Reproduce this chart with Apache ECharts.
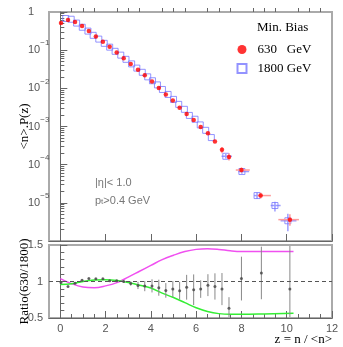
<!DOCTYPE html>
<html><head><meta charset="utf-8">
<script src="https://cdn.jsdelivr.net/npm/echarts@6/dist/echarts.min.js"></script>
<style>html,body{margin:0;padding:0;background:#fff}#c{width:343px;height:347px}</style>
</head><body><div id="c"></div>
<script>
// ---- data ----
const z630 = [0.03,0.34,0.65,0.96,1.26,1.57,1.88,2.18,2.49,2.80,3.11,3.43,3.73,4.05,4.35,4.66,4.97,5.27,5.58,5.89,6.20,6.52,6.83,7.14,7.45,8.00,8.85,10.14];
const p630 = [0.513,0.617,0.550,0.427,0.316,0.229,0.166,0.123,0.0871,0.0617,0.0437,0.0309,0.0219,0.0151,0.0102,0.00692,0.00479,0.00309,0.00214,0.00148,0.000977,0.000661,0.000407,0.000245,0.000158,7.24e-5,1.55e-5,3.63e-6];
const z1800 = [0.24,0.48,0.72,0.97,1.22,1.45,1.70,1.94,2.18,2.42,2.67,2.90,3.15,3.38,3.62,3.86,4.07,4.29,4.51,4.76,5.00,5.23,5.48,5.70,5.95,6.18,6.42,6.67,7.31,8.02,8.69,9.48,10.05];
const p1800 = [0.676,0.646,0.513,0.398,0.316,0.245,0.195,0.151,0.120,0.0933,0.0741,0.0575,0.0437,0.0339,0.0263,0.0200,0.0158,0.0123,0.00933,0.00692,0.00513,0.00380,0.00282,0.00195,0.00155,0.00110,0.000794,0.000513,0.000166,6.61e-5,1.55e-5,8.51e-6,3.39e-6];
// error bars: [z, value, zLow, zHigh, valueLow, valueHigh]
const err630 = [
  [7.14, 2.45e-4, 7.14, 7.14, 2.0e-4, 2.9e-4],
  [7.45, 1.58e-4, 7.45, 7.45, 1.29e-4, 2.0e-4],
  [8.00, 7.24e-5, 7.75, 8.37, 6.2e-5, 8.4e-5],
  [8.85, 1.55e-5, 8.71, 9.30, 1.3e-5, 1.85e-5],
  [10.14, 3.63e-6, 9.63, 10.54, 2.5e-6, 5.0e-6]
];
const err1800 = [
  [7.31, 1.66e-4, 7.12, 7.58, 1.45e-4, 1.9e-4],
  [8.02, 6.61e-5, 7.86, 8.34, 5.8e-5, 7.5e-5],
  [8.69, 1.55e-5, 8.56, 8.88, 1.26e-5, 1.86e-5],
  [9.48, 8.51e-6, 9.29, 9.73, 5.9e-6, 1.07e-5],
  [10.05, 3.39e-6, 9.73, 10.43, 1.8e-6, 5.2e-6]
];
const ratioZ = [0.03,0.34,0.65,0.96,1.26,1.57,1.88,2.18,2.49,2.80,3.11,3.43,3.73,4.05,4.35,4.66,4.97,5.27,5.58,5.89,6.20,6.52,6.83,7.14,7.45,8.00,8.88,10.14];
const ratioVal = [0.987,0.93,0.977,1.018,1.04,1.036,1.036,1.009,1.009,1.0,0.973,0.946,0.937,0.94,0.915,0.878,0.896,0.874,0.921,0.887,0.896,0.95,0.932,0.896,0.635,1.04,1.117,0.896];
const ratioErr = [0.01,0.01,0.01,0.01,0.01,0.01,0.01,0.01,0.012,0.015,0.03,0.05,0.07,0.09,0.11,0.1,0.11,0.12,0.17,0.21,0.12,0.15,0.18,0.22,0.15,0.30,0.36,0.6];
const curveZ = [0,0.5,1.0,1.5,2.0,2.5,3.0,3.5,4.0,4.5,5.0,5.5,6.0,6.5,7.0,7.5,8.0,9.0,10.3];
const magentaRatio = [1.04,0.97,0.925,0.915,0.94,0.985,1.06,1.14,1.22,1.30,1.36,1.41,1.44,1.45,1.44,1.42,1.41,1.41,1.41];
const greenRatio = [0.96,0.97,1.0,1.02,1.025,1.015,0.985,0.95,0.91,0.84,0.78,0.71,0.64,0.59,0.56,0.55,0.55,0.555,0.565];
const xTickLabels = [0,2,4,6,8,10,12];
const xMinorTicks = [0.5,1,1.5,2.5,3,3.5,4.5,5,5.5,6.5,7,7.5,8.5,9,9.5,10.5,11,11.5];
const yDecadeLabels = {'0':'1','-1':'10{s|−1}','-2':'10{s|−2}','-3':'10{s|−3}','-4':'10{s|−4}','-5':'10{s|−5}'};
const seriesNames = ['630   GeV','1800 GeV'];

// log minor tick positions (log10 of 2..9 x 10^k), drawn on a hidden linear log-space axis
const logMinorExp = [];
for (let k = -6; k < 0; k++) for (let m = 2; m <= 9; m++) logMinorExp.push(k + Math.log10(m));

const AX = '#666', LAB = '#555';
const sans = 'Liberation Sans', serif = 'Liberation Serif';

function errRender(color){
  return function(params, api){
    const c = api.coord([api.value(0), api.value(1)]);
    const xl = api.coord([api.value(2), api.value(1)]);
    const xh = api.coord([api.value(3), api.value(1)]);
    const yl = api.coord([api.value(0), api.value(4)]);
    const yh = api.coord([api.value(0), api.value(5)]);
    return {type:'group', children:[
      {type:'line', shape:{x1:xl[0],y1:c[1],x2:xh[0],y2:c[1]}, style:{stroke:color,lineWidth:1.5}},
      {type:'line', shape:{x1:c[0],y1:yl[1],x2:c[0],y2:yh[1]}, style:{stroke:color,lineWidth:1.5}}
    ]};
  };
}

const chart = echarts.init(document.getElementById('c'), null, {renderer:'canvas'});
const xMain = (gi, labels) => ({
  gridIndex: gi, type:'value', min:-0.5, max:12, position:'bottom',
  axisLine:{show:true, onZero:false, lineStyle:{color:AX,width:1}},
  axisTick:{show:true, inside:true, length:7, customValues:xTickLabels, lineStyle:{color:AX}},
  axisLabel:{show:labels, customValues:xTickLabels, color:LAB, fontFamily:sans, fontSize:11, margin:5},
  splitLine:{show:false}
});
const xMinor = (gi) => ({
  gridIndex: gi, type:'value', min:-0.5, max:12, position:'bottom', offset:0,
  axisLine:{show:false},
  axisTick:{show:true, inside:true, length:4, customValues:xMinorTicks, lineStyle:{color:AX}},
  axisLabel:{show:false}, splitLine:{show:false}
});

chart.setOption({
  animation:false,
  backgroundColor:'#fff',
  grid:[
    {left:49, right:11, top:12, height:229, show:true, borderColor:'#aaa', borderWidth:2, backgroundColor:'transparent'},
    {left:49, right:11, top:245, height:73, show:true, borderColor:'#aaa', borderWidth:2, backgroundColor:'transparent'}
  ],
  xAxis:[ xMain(0,false), xMinor(0), xMain(1,true), xMinor(1) ],
  yAxis:[
    {gridIndex:0, type:'log', logBase:10, min:1e-6, max:1, position:'left',
     axisLine:{show:true, lineStyle:{color:AX}},
     axisTick:{show:true, inside:true, length:7, lineStyle:{color:AX}},
     axisLabel:{show:true, align:'left', margin:21, color:LAB, fontFamily:sans, fontSize:11, lineHeight:22,
       formatter:function(v){ const e = String(Math.round(Math.log10(v))); return yDecadeLabels[e] ? yDecadeLabels[e] : ''; },
       rich:{s:{fontSize:8, lineHeight:10, verticalAlign:'top', color:LAB, fontFamily:sans}}},
     splitLine:{show:false},
     name:'<n>.P(z)', nameLocation:'middle', nameRotate:90, nameGap:18, nameMoveOverlap:false,
     nameTextStyle:{fontFamily:serif, fontSize:13, color:'#000'}},
    {gridIndex:0, type:'value', min:-6, max:0, position:'left', offset:0,
     axisLine:{show:false},
     axisTick:{show:true, inside:true, length:4, customValues:logMinorExp, lineStyle:{color:AX}},
     axisLabel:{show:false}, splitLine:{show:false}},
    {gridIndex:1, type:'value', min:0.5, max:1.5, interval:0.5, position:'left',
     axisLine:{show:true, lineStyle:{color:AX}},
     axisTick:{show:true, inside:true, length:7, lineStyle:{color:AX}},
     minorTick:{show:true, splitNumber:5, length:4, lineStyle:{color:AX}},
     axisLabel:{show:true, margin:6, color:LAB, fontFamily:sans, fontSize:11},
     splitLine:{show:false}, minorSplitLine:{show:false},
     name:'Ratio(630/1800)', nameLocation:'middle', nameRotate:90, nameGap:18, nameMoveOverlap:false,
     nameTextStyle:{fontFamily:serif, fontSize:13, color:'#000'}}
  ],
  legend:{
    data:seriesNames, orient:'vertical', left:236.5, top:43, itemGap:6, padding:0,
    itemWidth:9, itemHeight:9, selectedMode:false,
    textStyle:{fontFamily:serif, fontSize:13, color:'#000', padding:[0,0,0,6]}
  },
  graphic:[
    {type:'text', left:257, top:21, style:{text:'Min. Bias', fontFamily:serif, fontSize:13, fill:'#000'}},
    {type:'text', left:95, top:177, style:{text:'|η|< 1.0', fontFamily:sans, fontSize:11, fill:'#777'}},
    {type:'text', left:95, top:195, style:{text:'p{t|t}>0.4 GeV', fontFamily:sans, fontSize:11, fill:'#777',
      rich:{t:{fontSize:8, verticalAlign:'bottom', fill:'#777', fontFamily:sans}}}},
    {type:'text', right:11, top:333, style:{text:'z = n / <n>', fontFamily:serif, fontSize:13, fill:'#000'}}
  ],
  series:[
    {type:'custom', name:'err1800', xAxisIndex:0, yAxisIndex:0, renderItem:errRender('#9c9cff'),
     encode:{x:[0,2,3], y:[1,4,5]}, data:err1800, z:2, silent:true},
    {type:'scatter', name:seriesNames[1], xAxisIndex:0, yAxisIndex:0, symbol:'rect', symbolSize:6,
     itemStyle:{color:'rgba(0,0,0,0)', borderColor:'#7878ff', borderWidth:1},
     data:z1800.map((z,i)=>[z,p1800[i]]), z:3},
    {type:'custom', name:'err630', xAxisIndex:0, yAxisIndex:0, renderItem:errRender('#ff9a9a'),
     encode:{x:[0,2,3], y:[1,4,5]}, data:err630, z:4, silent:true},
    {type:'scatter', name:seriesNames[0], xAxisIndex:0, yAxisIndex:0, symbol:'circle', symbolSize:4.5,
     itemStyle:{color:'#ff0000'}, data:z630.map((z,i)=>[z,p630[i]]), z:5},
    {type:'line', name:'magenta', xAxisIndex:2, yAxisIndex:2, smooth:0.4, showSymbol:false, symbol:'none',
     lineStyle:{color:'#f050f0', width:1.5}, data:curveZ.map((z,i)=>[z,magentaRatio[i]]), z:2},
    {type:'line', name:'green', xAxisIndex:2, yAxisIndex:2, smooth:0.4, showSymbol:false, symbol:'none',
     lineStyle:{color:'#33ee33', width:1.5}, data:curveZ.map((z,i)=>[z,greenRatio[i]]), z:2},
    {type:'custom', name:'ratioErr', xAxisIndex:2, yAxisIndex:2, z:3, silent:true,
     renderItem:function(params, api){
       const cs = params.coordSys;
       const lo = api.coord([api.value(0), api.value(1)-api.value(2)]);
       const hi = api.coord([api.value(0), api.value(1)+api.value(2)]);
       const clampY = y => Math.min(Math.max(y, cs.y+1), cs.y+cs.height-1);
       return {type:'line', shape:{x1:lo[0], y1:clampY(lo[1]), x2:hi[0], y2:clampY(hi[1])}, style:{stroke:'#888', lineWidth:1}};
     },
     encode:{x:0, y:1}, data:ratioZ.map((z,i)=>[z,ratioVal[i],ratioErr[i]])},
    {type:'scatter', name:'ratio', xAxisIndex:2, yAxisIndex:2, symbol:'circle', symbolSize:3,
     itemStyle:{color:'#444'}, data:ratioZ.map((z,i)=>[z,ratioVal[i]]), z:4,
     markLine:{silent:true, symbol:'none', label:{show:false},
       lineStyle:{color:'#555', type:[4,3], width:1}, data:[{yAxis:1}]}}
  ]
});
</script></body></html>
